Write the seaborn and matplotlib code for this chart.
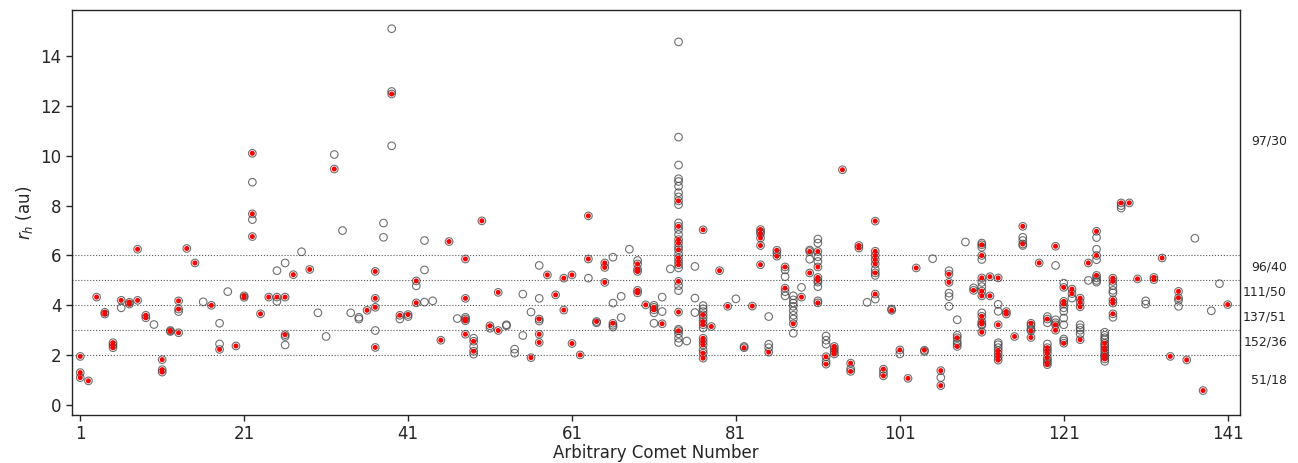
import matplotlib
matplotlib.use("Agg")
import matplotlib.pyplot as plt
import matplotlib.transforms as mtransforms
import numpy as np
import pandas as pd
import seaborn as sns

sns.set_style("ticks")
plt.rcParams['font.family'] = ['DejaVu Sans']

# ---- points with a red (detection) dot ----
red_comet = [
    1, 1, 1, 2, 3, 4, 4, 5, 5, 5,
    6, 7, 7, 8, 8, 9, 9, 11, 11, 11,
    12, 12, 13, 13, 13, 14, 15, 17, 18, 20,
    21, 21, 22, 22, 22, 23, 24, 25, 26, 26,
    27, 29, 32, 36, 37, 37, 37, 37, 39, 40,
    41, 42, 42, 45, 46, 48, 48, 48, 48, 48,
    49, 49, 50, 51, 52, 52, 56, 57, 57, 57,
    58, 59, 60, 60, 61, 61, 62, 63, 63, 64,
    65, 65, 65, 66, 69, 69, 69, 69, 69, 70,
    71, 71, 72,
    74, 74, 74, 74, 74, 74, 74, 74, 74, 74, 74,
    77, 77, 77, 77, 77, 77, 77, 77, 77,
    78, 79, 80, 82, 83, 84, 84, 84, 84, 84,
    85, 86, 86, 87, 87, 88, 89, 90, 90,
    91, 91, 91, 91, 91, 92, 92, 93, 93, 93, 93,
    94, 95, 95, 96, 96, 98, 98, 98, 98, 98, 98, 98,
    99, 99, 100, 101, 102, 103, 104, 106, 106, 107, 107,
    108, 108, 110,
    111, 111, 111, 111, 111, 111, 111, 111, 111,
    112, 112, 113, 113, 113, 113, 113, 113, 114, 114, 115,
    116, 116, 117, 117, 117, 118,
    119, 119, 119, 119, 119, 119, 119,
    120, 120, 120, 121, 121, 121, 121, 122, 122,
    123, 123, 123, 123, 124, 125, 125, 125,
    126, 126, 126, 126, 126, 126, 127, 127, 127, 127, 127,
    128, 129, 130, 132, 132, 133, 134, 135, 135, 136, 138, 141,
]
red_rh = [
    1.95, 1.30, 1.10, 0.97, 4.33, 3.72, 3.65, 2.50, 2.40, 2.30,
    4.20, 4.12, 4.05, 6.25, 4.20, 3.60, 3.50, 1.82, 1.42, 1.32,
    2.99, 2.95, 4.18, 3.85, 2.90, 6.28, 5.70, 4.00, 2.23, 2.37,
    4.38, 4.32, 10.10, 7.67, 6.76, 3.66, 4.33, 4.33, 4.33, 2.82,
    5.23, 5.44, 9.47, 3.80, 5.36, 4.28, 3.92, 2.31, 12.48, 3.60,
    3.63, 4.98, 4.10, 2.60, 6.56, 5.86, 4.28, 3.45, 3.38, 2.84,
    2.56, 2.16, 7.39, 3.18, 4.52, 2.99, 1.90, 3.45, 2.84, 2.51,
    5.22, 4.42, 5.09, 3.81, 5.22, 2.47, 2.01, 7.59, 5.86, 3.35,
    5.70, 5.52, 4.92, 3.28, 5.66, 5.45, 5.36, 4.60, 4.50, 4.02,
    3.92, 3.82, 3.26,
    8.19, 7.17, 6.64, 6.50, 6.23, 5.90, 5.76, 5.63, 4.96, 3.73, 2.98,
    7.03, 3.62, 3.35, 3.22, 2.68, 2.55, 2.41, 2.08, 1.88,
    3.15, 5.39, 3.96, 2.30, 3.97, 7.04, 6.88, 6.70, 6.40, 5.63,
    2.12, 6.21, 5.97, 5.54, 4.69, 3.26, 4.33, 6.16, 5.30,
    6.16, 5.54, 5.12, 5.00, 4.10, 1.94, 1.64, 2.35, 2.25, 2.15, 2.05,
    9.44, 1.68, 1.35, 6.40, 6.30, 7.38, 6.17, 6.00, 5.84, 5.66, 5.30, 4.45,
    1.44, 1.17, 3.80, 2.21, 1.07, 5.50, 2.20, 1.38, 0.78, 5.25, 4.92,
    2.70, 2.35, 4.60,
    6.43, 6.00, 5.10, 4.57, 4.38, 3.56, 3.35, 3.25, 2.92,
    5.15, 4.38, 5.10, 3.22, 2.18, 2.05, 1.92, 1.80, 3.75, 3.65, 2.75,
    7.17, 6.46, 3.28, 2.98, 2.71, 5.70,
    3.45, 2.30, 2.20, 2.08, 1.90, 1.70, 1.62,
    6.37, 3.22, 3.00, 4.72, 4.16, 4.05, 2.48, 4.65, 4.47,
    4.29, 4.12, 3.94, 2.62, 5.70, 6.97, 6.00, 5.20,
    2.48, 2.30, 2.21, 2.00, 1.94, 1.85, 5.09, 4.96, 4.22, 4.09, 3.66,
    8.11, 8.11, 5.06, 5.12, 5.03, 5.90, 1.95, 4.56, 4.30, 1.81, 0.58, 4.03,
]

# ---- points shown only as open circles ----
open_comet = [
    6, 10, 13, 16, 18, 18, 19, 22, 22, 25,
    25, 26, 26, 26, 28, 30, 31, 32, 33, 34,
    35, 35, 37, 38, 38, 39, 39, 39, 40, 41,
    42, 43, 43, 43, 44, 47, 48, 49, 49, 49,
    51, 53, 53, 54, 54, 55, 55, 56, 57, 57,
    57, 63, 64, 66, 66, 66, 66, 67, 67, 68,
    69, 71, 71, 71, 72, 72, 73,
    74, 74, 74, 74, 74, 74, 74, 74, 74, 74, 74,
    74, 74, 74, 74, 74, 74, 74, 74, 74, 74,
    75, 76, 76, 76, 77, 77, 77, 77, 77, 77,
    81, 82, 84, 85, 85, 85, 86, 87, 87, 87, 87,
    88, 88, 88, 88, 88, 88, 88, 88, 89, 90, 90,
    91, 91, 91, 91, 91, 91, 91, 92, 92, 92, 92,
    95, 97, 98, 98, 98, 99, 100, 101, 104, 105, 106,
    107, 107, 107, 107, 108, 108, 108, 108, 109, 110,
    111, 111, 111, 111, 111, 111, 111,
    113, 113, 113, 113, 113, 116, 116, 116, 117, 117,
    119, 119, 119, 119, 120, 120, 120,
    121, 121, 121, 121, 121, 121, 121, 122,
    123, 123, 123, 123, 124, 125, 125, 125, 125, 125, 125,
    126, 126, 126, 126, 126, 126, 126, 127, 127, 127, 127,
    128, 128, 131, 131, 135, 135, 137, 139, 140,
]
open_rh = [
    3.90, 3.23, 3.75, 4.14, 3.28, 2.45, 4.55, 8.94, 7.44, 5.39,
    4.16, 5.70, 2.75, 2.41, 6.15, 3.70, 2.75, 10.05, 7.00, 3.70,
    3.52, 3.45, 2.99, 7.30, 6.73, 15.10, 12.58, 10.40, 3.45, 3.55,
    4.78, 6.60, 5.42, 4.13, 4.18, 3.47, 3.52, 2.68, 2.35, 2.04,
    3.08, 3.22, 3.18, 2.24, 2.08, 4.45, 2.79, 3.73, 5.60, 4.28,
    3.37, 5.09, 3.30, 5.93, 4.09, 3.20, 3.13, 4.36, 3.51, 6.25,
    5.80, 4.00, 3.70, 3.28, 4.33, 3.75, 5.46,
    14.57, 10.75, 9.63, 9.08, 8.97, 8.78, 8.52, 8.35, 8.04, 7.31, 7.04,
    6.84, 6.34, 6.06, 5.50, 4.79, 4.59, 3.04, 2.86, 2.68, 2.51,
    2.57, 5.56, 4.29, 3.71, 3.99, 3.86, 3.75, 3.49, 3.09, 2.21,
    4.26, 2.35, 6.95, 3.55, 2.44, 2.30, 6.10, 5.42, 5.15, 4.55, 4.38,
    4.38, 4.22, 4.09, 3.96, 3.78, 3.60, 3.45, 2.88, 4.72, 6.22, 5.85,
    6.66, 6.50, 5.95, 5.76, 4.93, 4.75, 4.18, 2.77, 2.60, 2.44, 1.75,
    1.45, 4.12, 5.44, 5.20, 4.25, 1.30, 3.85, 2.05, 2.15, 5.87, 1.10,
    5.39, 4.49, 4.35, 3.96, 3.42, 2.80, 2.55, 2.45, 6.54, 4.70,
    6.50, 6.33, 5.84, 4.92, 4.75, 3.70, 3.20,
    4.04, 3.76, 2.50, 2.42, 2.30, 6.73, 6.60, 6.40, 3.20, 3.05,
    3.55, 3.30, 2.45, 1.80, 5.60, 3.42, 3.30,
    4.89, 3.90, 3.76, 3.49, 3.22, 2.65, 2.57, 4.29,
    3.22, 3.10, 3.00, 2.85, 5.00, 6.72, 6.25, 5.83, 5.10, 5.00, 4.93,
    2.92, 2.80, 2.70, 2.62, 2.40, 2.10, 1.75, 4.79, 4.60, 4.50, 3.52,
    8.00, 7.90, 4.18, 4.05, 4.20, 3.96, 6.69, 3.78, 4.87,
]

ref_levels = [2, 3, 4, 5, 6]
side_labels = ["97/30", "96/40", "111/50", "137/51", "152/36", "51/18"]
side_label_rh = [10.6, 5.55, 4.55, 3.54, 2.53, 1.0]
x_ticks = [1, 21, 41, 61, 81, 101, 121, 141]
y_ticks = [0, 2, 4, 6, 8, 10, 12, 14]

red_df = pd.DataFrame({"comet": red_comet, "rh": red_rh})
open_df = pd.DataFrame({"comet": open_comet, "rh": open_rh})
all_df = pd.concat([open_df, red_df], ignore_index=True)

fig = plt.figure(figsize=(12.98, 4.63), dpi=100)
ax = fig.add_axes([0.0555, 0.1037, 0.8998, 0.8747])

for lv in ref_levels:
    ax.axhline(lv, ls=":", color="0.35", lw=0.8, zorder=1)

sns.scatterplot(data=all_df, x="comet", y="rh", ax=ax, marker="o", s=30,
                facecolor="none", edgecolor="0.25", linewidth=0.8, alpha=0.75,
                zorder=2, legend=False)
sns.scatterplot(data=red_df, x="comet", y="rh", ax=ax, marker="o", s=13,
                color="red", edgecolor="none", linewidth=0, zorder=3, legend=False)

ax.set_xlim(0.0, 142.5)
ax.set_ylim(-0.4, 15.85)
ax.set_xticks(x_ticks)
ax.set_yticks(y_ticks)
ax.tick_params(labelsize=12, direction="out", length=4, width=1)
ax.set_xlabel("Arbitrary Comet Number", fontsize=12, labelpad=0.5)
ax.set_ylabel("$r_h$ (au)", fontsize=12)
for sp in ax.spines.values():
    sp.set_visible(True)
    sp.set_linewidth(1.0)
    sp.set_color("0.15")

trans = mtransforms.blended_transform_factory(ax.transAxes, ax.transData)
for lab, yv in zip(side_labels, side_label_rh):
    ax.text(1.0402, yv, lab, transform=trans, ha="right", va="center", fontsize=9)

fig.savefig("out.png", dpi=100)
